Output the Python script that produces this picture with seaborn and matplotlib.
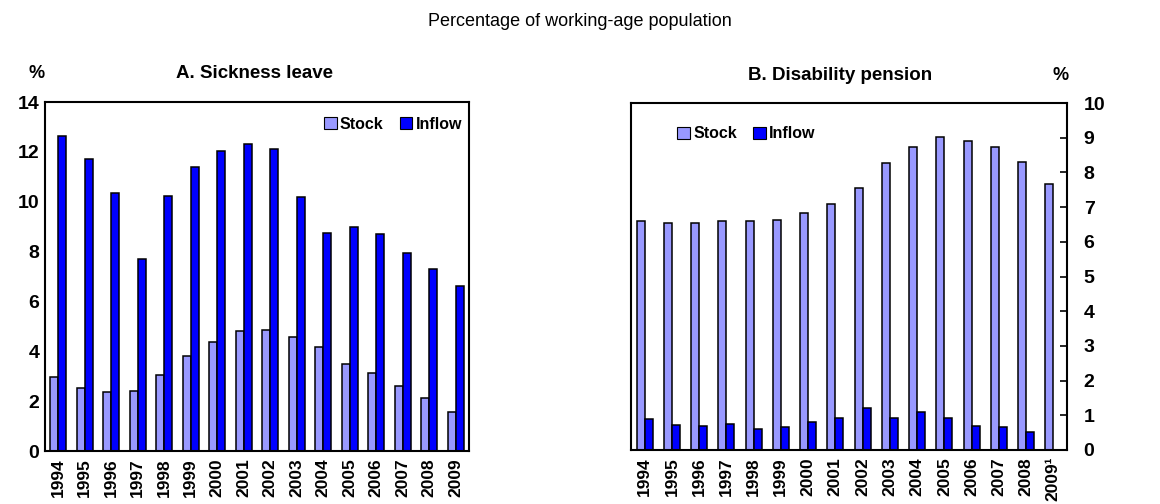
import numpy as np
import pandas as pd
import matplotlib
matplotlib.use("Agg")
import matplotlib.pyplot as plt
import seaborn as sns

years = ["1994", "1995", "1996", "1997", "1998", "1999", "2000", "2001",
         "2002", "2003", "2004", "2005", "2006", "2007", "2008", "2009"]
years_b = years[:-1] + ["2009¹"]

sick_stock = [2.98, 2.54, 2.38, 2.39, 3.06, 3.82, 4.36, 4.83,
              4.87, 4.57, 4.18, 3.50, 3.13, 2.59, 2.11, 1.58]
sick_inflow = [12.65, 11.70, 10.34, 7.69, 10.22, 11.40, 12.02, 12.33,
               12.13, 10.18, 8.74, 8.98, 8.69, 7.95, 7.29, 6.61]

dis_stock = [6.60, 6.55, 6.53, 6.60, 6.59, 6.63, 6.83, 7.09,
             7.54, 8.26, 8.74, 9.01, 8.91, 8.74, 8.29, 7.67]
dis_inflow = [0.89, 0.71, 0.69, 0.74, 0.60, 0.66, 0.81, 0.93,
              1.21, 0.93, 1.10, 0.93, 0.70, 0.67, 0.52, np.nan]

series = ["Stock", "Inflow"]
colors = {"Stock": "#9999FF", "Inflow": "#0000FF"}

sns.set_theme(style="white")
plt.rcParams["font.family"] = ["Liberation Sans", "DejaVu Sans"]
plt.rcParams["text.color"] = "black"
plt.rcParams["xtick.color"] = "black"
plt.rcParams["ytick.color"] = "black"
plt.rcParams["axes.labelcolor"] = "black"

fig = plt.figure(figsize=(11.6, 5.04), dpi=100)
axA = fig.add_axes([45/1160, 1-451/504, 424/1160, 349/504])
axB = fig.add_axes([631/1160, 1-450/504, 436/1160, 347/504])


def long_df(labels, stock, inflow):
    return pd.DataFrame({
        "year": labels * 2,
        "series": ["Stock"] * len(labels) + ["Inflow"] * len(labels),
        "value": list(stock) + list(inflow),
    })


dfA = long_df(years, sick_stock, sick_inflow)
dfB = long_df(years_b, dis_stock, dis_inflow)

for ax, df, labels, width in [(axA, dfA, years, 0.62), (axB, dfB, years_b, 0.59)]:
    sns.barplot(data=df, x="year", y="value", hue="series", hue_order=series,
                order=labels, palette=colors, width=width, ax=ax,
                edgecolor="black", linewidth=1.1, saturation=1, errorbar=None)
    ax.set_xlim(-0.5, len(labels) - 0.5)
    ax.set_xlabel("")
    ax.set_ylabel("")
    for s in ax.spines.values():
        s.set_visible(True)
        s.set_color("black")
        s.set_linewidth(1.5)
    ax.tick_params(axis="x", length=0, pad=5)
    ax.set_xticks(range(len(labels)))
    ax.set_xticklabels(labels, rotation=90, fontsize=12.5, fontweight="bold")

axA.set_ylim(0, 14)
axA.set_yticks(range(0, 15, 2))
axA.set_yticklabels([str(v) for v in range(0, 15, 2)], fontsize=14, fontweight="bold")
axA.tick_params(axis="y", direction="in", length=5, width=1.2, color="black", pad=4)

axB.set_ylim(0, 10)
axB.yaxis.tick_right()
axB.set_yticks(range(0, 11))
axB.set_yticklabels([str(v) for v in range(0, 11)], fontsize=14, fontweight="bold")
axB.tick_params(axis="y", direction="in", length=5, width=1.2, color="black", pad=12,
                left=False, right=True)

legA = axA.legend(loc="upper right", bbox_to_anchor=(1.01, 0.99), ncol=2, frameon=False,
                  fontsize=11.5, handlelength=0.8, handleheight=0.8, handletextpad=0.2,
                  columnspacing=1.0, borderaxespad=0.3)
legB = axB.legend(loc="upper left", bbox_to_anchor=(0.08, 0.965), ncol=2, frameon=False,
                  fontsize=11.5, handlelength=0.8, handleheight=0.8, handletextpad=0.2,
                  columnspacing=1.0, borderaxespad=0.3)
for leg in (legA, legB):
    for t in leg.get_texts():
        t.set_fontweight("bold")
        t.set_color("black")
    for h in leg.legend_handles:
        h.set_edgecolor("black")
        h.set_linewidth(0.8)

fig.text(0.5, 1-22/504, "Percentage of working-age population", ha="center", va="center",
         fontsize=13, color="black")
fig.text(255/1160, 1-74/504, "A. Sickness leave", ha="center", va="center",
         fontsize=13.5, fontweight="bold", color="black")
fig.text(840/1160, 1-75/504, "B. Disability pension", ha="center", va="center",
         fontsize=13.5, fontweight="bold", color="black")
fig.text(37/1160, 1-74/504, "%", ha="center", va="center", fontsize=13,
         fontweight="bold", color="black")
fig.text(1061/1160, 1-76/504, "%", ha="center", va="center", fontsize=13,
         fontweight="bold", color="black")

fig.savefig("out.png", dpi=100)
